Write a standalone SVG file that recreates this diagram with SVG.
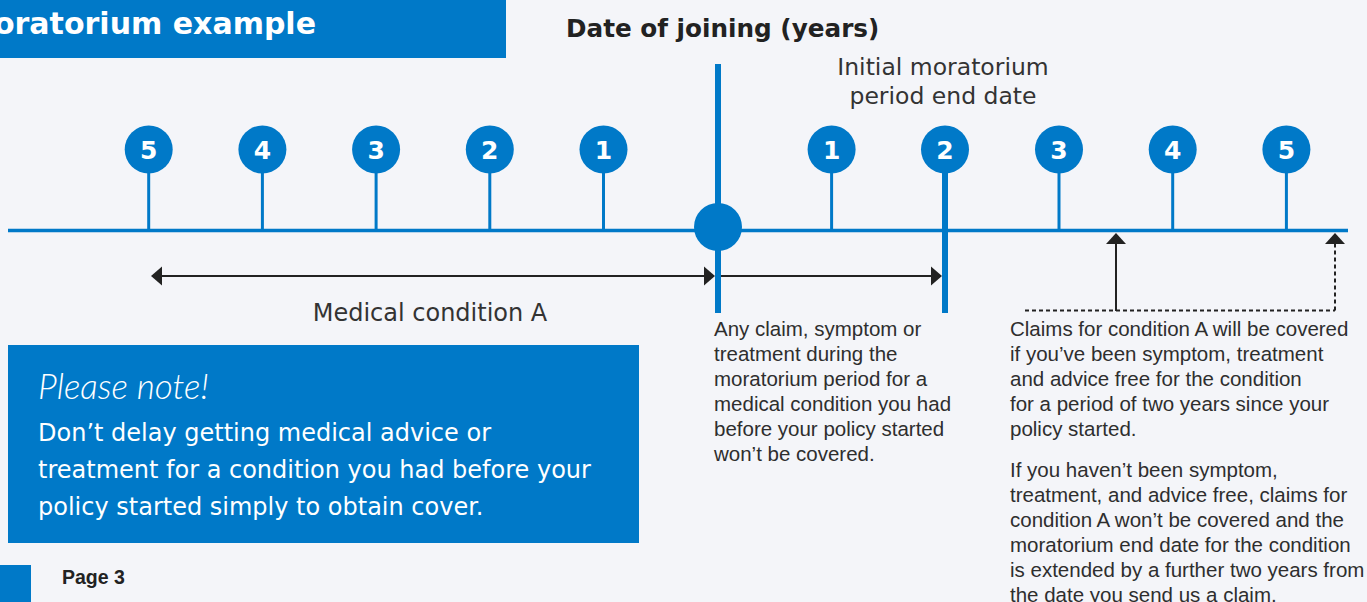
<svg xmlns="http://www.w3.org/2000/svg" width="1367" height="602" viewBox="0 0 1367 602">
  <style>
    .blue { fill: #0079c8; }
    .wide { font-family: "DejaVu Sans", "Liberation Sans", sans-serif; }
    .narrow { font-family: "Liberation Sans", Arial, sans-serif; font-size: 20.5px; fill: #2e2e2e; }
    .num { font-family: "DejaVu Sans", sans-serif; font-weight: bold; font-size: 25px; fill: #ffffff; text-anchor: middle; }
    .stem { stroke: #0079c8; stroke-width: 3; }
    .thick { stroke: #0079c8; stroke-width: 6; }
    .arrow { stroke: #222; stroke-width: 2; fill: none; }
    .dash { stroke: #222; stroke-width: 2; fill: none; stroke-dasharray: 4 3; }
    .head { fill: #222; }
  </style>

  <!-- page background -->
  <rect x="0" y="0" width="1367" height="602" fill="#f4f5f9"/>

  <!-- heading banner -->
  <g id="title">
    <rect class="blue" x="0" y="0" width="506" height="58"/>
    <text class="wide" x="316" y="34" text-anchor="end" font-size="30" font-weight="bold" fill="#ffffff">oratorium example</text>
  </g>

  <g id="axis-label">
    <text class="wide" x="566" y="37" font-size="24.7" font-weight="bold" fill="#222">Date of joining (years)</text>
  </g>

  <g id="end-date-label">
    <text class="wide" x="943" y="75" font-size="23.5" fill="#333" text-anchor="middle">Initial moratorium</text>
    <text class="wide" x="943" y="104" font-size="23.5" fill="#333" text-anchor="middle">period end date</text>
  </g>

  <!-- timeline axis -->
  <g id="timeline">
    <line x1="8" y1="230.5" x2="1348" y2="230.5" stroke="#0079c8" stroke-width="3.5"/>
    <line class="thick" x1="718" y1="64" x2="718" y2="313"/>
    <circle class="blue" cx="718" cy="227" r="24"/>
  </g>

  <!-- year markers before joining -->
  <g id="pin-before-5"><line class="stem" x1="148.7" y1="170" x2="148.7" y2="231"/><circle class="blue" cx="148.7" cy="149.5" r="24"/><text class="num" x="148.7" y="158.5">5</text></g>
  <g id="pin-before-4"><line class="stem" x1="262.4" y1="170" x2="262.4" y2="231"/><circle class="blue" cx="262.4" cy="149.5" r="24"/><text class="num" x="262.4" y="158.5">4</text></g>
  <g id="pin-before-3"><line class="stem" x1="376.1" y1="170" x2="376.1" y2="231"/><circle class="blue" cx="376.1" cy="149.5" r="24"/><text class="num" x="376.1" y="158.5">3</text></g>
  <g id="pin-before-2"><line class="stem" x1="489.8" y1="170" x2="489.8" y2="231"/><circle class="blue" cx="489.8" cy="149.5" r="24"/><text class="num" x="489.8" y="158.5">2</text></g>
  <g id="pin-before-1"><line class="stem" x1="603.5" y1="170" x2="603.5" y2="231"/><circle class="blue" cx="603.5" cy="149.5" r="24"/><text class="num" x="603.5" y="158.5">1</text></g>

  <!-- year markers after joining -->
  <g id="pin-after-1"><line class="stem" x1="831.6" y1="170" x2="831.6" y2="231"/><circle class="blue" cx="831.6" cy="149.5" r="24"/><text class="num" x="831.6" y="158.5">1</text></g>
  <g id="pin-after-2"><line class="thick" x1="945" y1="170" x2="945" y2="313"/><circle class="blue" cx="945" cy="149.5" r="24"/><text class="num" x="945" y="158.5">2</text></g>
  <g id="pin-after-3"><line class="stem" x1="1059" y1="170" x2="1059" y2="231"/><circle class="blue" cx="1059" cy="149.5" r="24"/><text class="num" x="1059" y="158.5">3</text></g>
  <g id="pin-after-4"><line class="stem" x1="1172.7" y1="170" x2="1172.7" y2="231"/><circle class="blue" cx="1172.7" cy="149.5" r="24"/><text class="num" x="1172.7" y="158.5">4</text></g>
  <g id="pin-after-5"><line class="stem" x1="1286.4" y1="170" x2="1286.4" y2="231"/><circle class="blue" cx="1286.4" cy="149.5" r="24"/><text class="num" x="1286.4" y="158.5">5</text></g>

  <!-- span arrows and claim pointers -->
  <g id="connectors">
    <line class="arrow" x1="160" y1="276" x2="706" y2="276"/>
    <polygon class="head" points="151,276 162,266.5 162,285.5"/>
    <polygon class="head" points="715,276 704,266.5 704,285.5"/>
    <line class="arrow" x1="721" y1="276" x2="932" y2="276"/>
    <polygon class="head" points="942,276 931,266.5 931,285.5"/>

    <line class="arrow" x1="1116" y1="311" x2="1116" y2="243"/>
    <polygon class="head" points="1116,233 1106,244 1126,244"/>
    <line class="dash" x1="1025" y1="310.5" x2="1335" y2="310.5"/>
    <line class="dash" x1="1335" y1="310.5" x2="1335" y2="243"/>
    <polygon class="head" points="1335,233 1325,244 1345,244"/>
  </g>

  <g id="condition-label">
    <text class="wide" x="430" y="321" font-size="24" fill="#333" text-anchor="middle">Medical condition A</text>
  </g>

  <!-- explanatory notes under the axis -->
  <g id="note-moratorium">
    <text class="narrow" x="714" y="336">Any claim, symptom or</text>
    <text class="narrow" x="714" y="361">treatment during the</text>
    <text class="narrow" x="714" y="386">moratorium period for a</text>
    <text class="narrow" x="714" y="411">medical condition you had</text>
    <text class="narrow" x="714" y="436">before your policy started</text>
    <text class="narrow" x="714" y="461">won’t be covered.</text>
  </g>

  <g id="note-claims">
    <text class="narrow" x="1010" y="336">Claims for condition A will be covered</text>
    <text class="narrow" x="1010" y="361">if you’ve been symptom, treatment</text>
    <text class="narrow" x="1010" y="386">and advice free for the condition</text>
    <text class="narrow" x="1010" y="411">for a period of two years since your</text>
    <text class="narrow" x="1010" y="436">policy started.</text>
    <text class="narrow" x="1010" y="477">If you haven’t been symptom,</text>
    <text class="narrow" x="1010" y="502">treatment, and advice free, claims for</text>
    <text class="narrow" x="1010" y="527">condition A won’t be covered and the</text>
    <text class="narrow" x="1010" y="552">moratorium end date for the condition</text>
    <text class="narrow" x="1010" y="577">is extended by a further two years from</text>
    <text class="narrow" x="1010" y="602">the date you send us a claim.</text>
  </g>

  <!-- call-out box -->
  <g id="please-note">
    <rect class="blue" x="8" y="345" width="631" height="198"/>
    <text x="38" y="399" font-family="Lato, 'Open Sans', sans-serif" font-style="italic" font-weight="300" font-size="35" fill="#ffffff">Please note!</text>
    <text class="wide" x="38" y="441" font-size="24" fill="#ffffff">Don’t delay getting medical advice or</text>
    <text class="wide" x="38" y="478" font-size="24" fill="#ffffff">treatment for a condition you had before your</text>
    <text class="wide" x="38" y="515" font-size="24" fill="#ffffff">policy started simply to obtain cover.</text>
  </g>

  <!-- footer -->
  <g id="footer">
    <rect class="blue" x="0" y="565" width="31" height="37"/>
    <text x="62" y="584" font-family="'Liberation Sans', Arial, sans-serif" font-weight="bold" font-size="19.5" fill="#222">Page 3</text>
  </g>
</svg>
